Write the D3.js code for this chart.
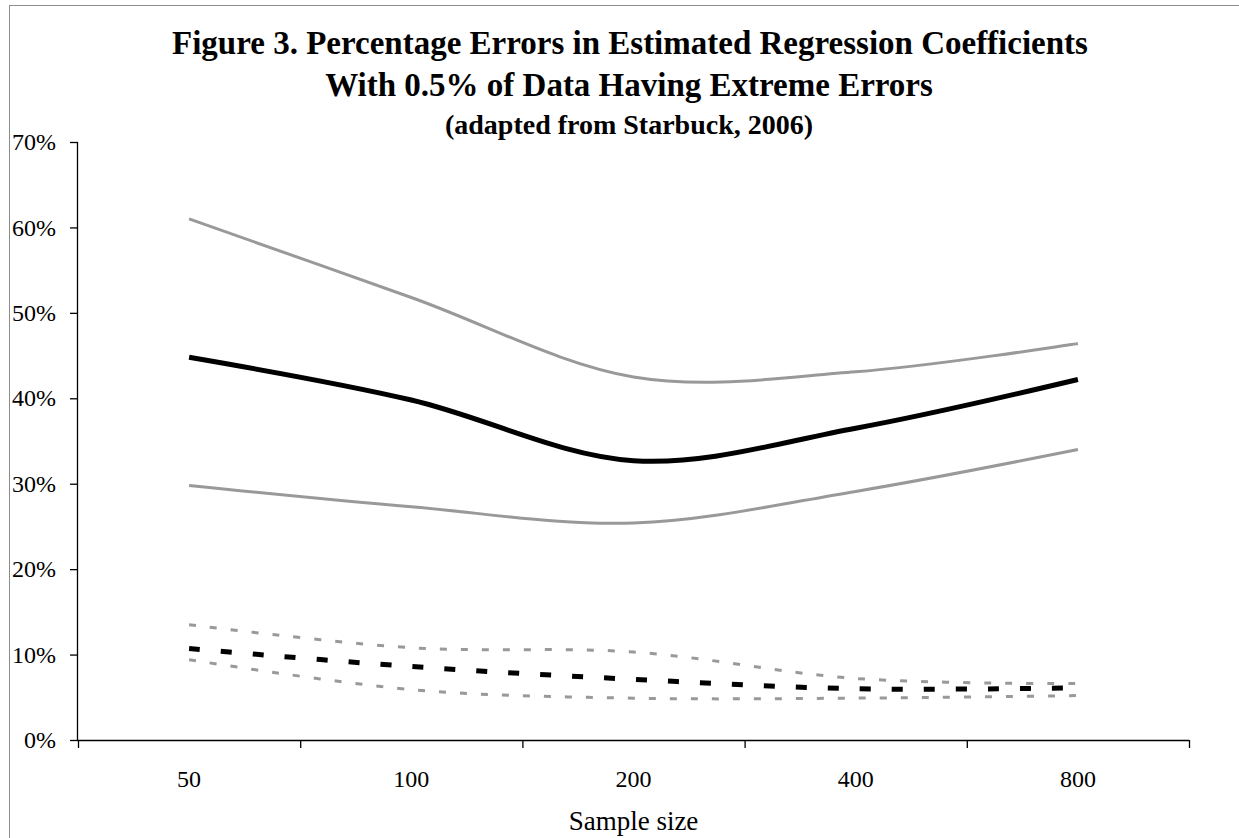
<!DOCTYPE html>
<html>
<head>
<meta charset="utf-8">
<script src="https://cdn.jsdelivr.net/npm/d3@7"></script>
<style>
  html, body { margin: 0; padding: 0; background: #fff; }
  svg { display: block; }
  text { font-family: "Liberation Serif", "Times New Roman", serif; fill: #000; }
</style>
</head>
<body>
<svg id="chart" width="1239" height="838"></svg>
<script>
// ---- data ----
const categories = ["50", "100", "200", "400", "800"];
const solidUpper = [61.0, 51.8, 42.5, 43.1, 46.4];
const solidMean  = [44.8, 39.8, 32.7, 36.5, 42.2];
const solidLower = [29.8, 27.3, 25.4, 29.1, 34.0];
const dashUpper  = [13.5, 10.8, 10.3, 7.2, 6.6];
const dashMean   = [10.7, 8.6, 7.1, 6.0, 6.1];
const dashLower  = [9.4, 5.9, 4.9, 4.9, 5.2];
const yTicks = [0, 10, 20, 30, 40, 50, 60, 70];
const titleLines = [
  "Figure 3. Percentage Errors in Estimated Regression Coefficients",
  "With 0.5% of Data Having Extreme Errors",
  "(adapted from Starbuck, 2006)"
];
const xTitle = "Sample size";

// ---- layout ----
const svg = d3.select("#chart");
const W = 1239, H = 838;
const plot = { left: 78, right: 1189, top: 142, bottom: 740 };

svg.append("rect").attr("x", 9.5).attr("y", 5.5)
  .attr("width", W + 10).attr("height", H + 10)
  .attr("fill", "#fff").attr("stroke", "#8c8c8c").attr("stroke-width", 1);

const x = d3.scaleBand().domain(categories).range([plot.left, plot.right]).padding(0);
const xEdge = d3.scaleLinear().domain([0, categories.length]).range([plot.left, plot.right]);
const y = d3.scaleLinear().domain([0, 70]).range([plot.bottom, plot.top]);

// title
const tTitle = svg.append("g");
tTitle.append("text").attr("x", 630).attr("y", 54).attr("text-anchor", "middle")
  .attr("font-size", 33).attr("font-weight", "bold").text(titleLines[0]);
tTitle.append("text").attr("x", 629).attr("y", 96).attr("text-anchor", "middle")
  .attr("font-size", 33).attr("font-weight", "bold").text(titleLines[1]);
tTitle.append("text").attr("x", 629).attr("y", 134).attr("text-anchor", "middle")
  .attr("font-size", 28).attr("font-weight", "bold").text(titleLines[2]);

// y axis
const yAxis = d3.axisLeft(y).tickValues(yTicks).tickSize(8).tickPadding(14)
  .tickFormat(d => d + "%");
const gy = svg.append("g").attr("transform", `translate(${plot.left},0)`).call(yAxis);
gy.select(".domain").attr("d", `M-0.5,${plot.top}V${plot.bottom}`).attr("stroke", "#000").attr("stroke-width", 1.3);
gy.selectAll(".tick line").attr("stroke", "#000").attr("stroke-width", 1.3);
gy.selectAll(".tick text").attr("font-size", 24).attr("font-family", "Liberation Serif, serif").attr("dy", "0.32em");

// x axis edges (ticks between categories)
const xAxisEdges = d3.axisBottom(xEdge).tickValues(d3.range(categories.length + 1))
  .tickSize(8).tickFormat("");
const gx = svg.append("g").attr("transform", `translate(0,${plot.bottom})`).call(xAxisEdges);
gx.select(".domain").attr("d", `M${plot.left},0.5H${plot.right}`).attr("stroke", "#000").attr("stroke-width", 1.3);
gx.selectAll(".tick line").attr("stroke", "#000").attr("stroke-width", 1.3);

// x labels
const xLabels = d3.axisBottom(x).tickSize(0).tickPadding(30);
const gxl = svg.append("g").attr("transform", `translate(0,${plot.bottom})`).call(xLabels);
gxl.select(".domain").remove();
gxl.selectAll(".tick text").attr("font-size", 24).attr("font-family", "Liberation Serif, serif");

svg.append("text").attr("x", (plot.left + plot.right) / 2).attr("y", 830)
  .attr("text-anchor", "middle").attr("font-size", 27).text(xTitle);

// lines
const line = d3.line()
  .x((d, i) => x(categories[i]) + x.bandwidth() / 2)
  .y(d => y(d))
  .curve(d3.curveCardinal.tension(0));

const series = [
  { data: solidUpper, color: "#999999", width: 3, dash: null },
  { data: solidLower, color: "#999999", width: 3, dash: null },
  { data: solidMean,  color: "#000000", width: 5, dash: null },
  { data: dashUpper,  color: "#999999", width: 3, dash: "7,14" },
  { data: dashLower,  color: "#999999", width: 3, dash: "7,14" },
  { data: dashMean,   color: "#000000", width: 5, dash: "11,21" }
];

svg.append("g").selectAll("path").data(series).join("path")
  .attr("d", d => line(d.data))
  .attr("fill", "none")
  .attr("stroke", d => d.color)
  .attr("stroke-width", d => d.width)
  .attr("stroke-dasharray", d => d.dash);
</script>
</body>
</html>
